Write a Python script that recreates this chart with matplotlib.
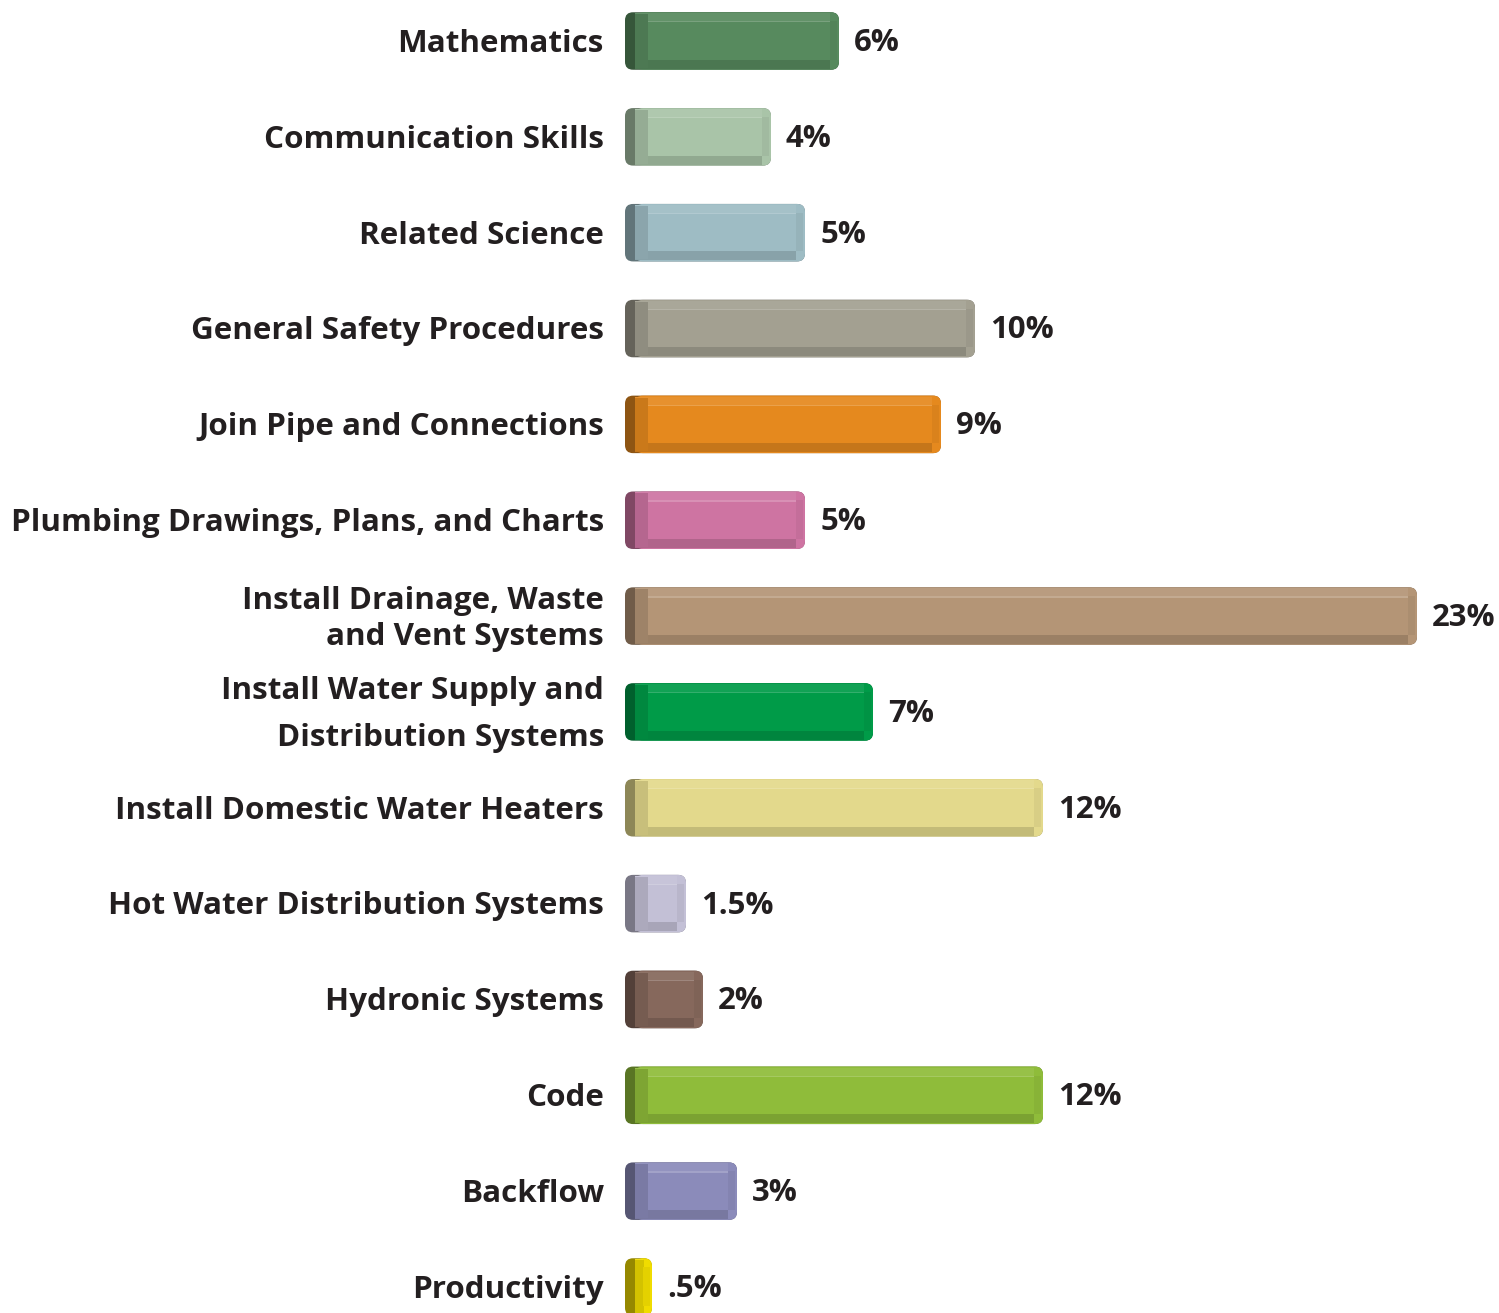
import matplotlib
matplotlib.use("Agg")
import matplotlib.pyplot as plt
from matplotlib.patches import FancyBboxPatch, Rectangle
from matplotlib.colors import to_rgb

# --- data -------------------------------------------------------------
categories = [
    "Mathematics",
    "Communication Skills",
    "Related Science",
    "General Safety Procedures",
    "Join Pipe and Connections",
    "Plumbing Drawings, Plans, and Charts",
    "Install Drainage, Waste\nand Vent Systems",
    "Install Water Supply and\nDistribution Systems",
    "Install Domestic Water Heaters",
    "Hot Water Distribution Systems",
    "Hydronic Systems",
    "Code",
    "Backflow",
    "Productivity",
]
values = [6, 4, 5, 10, 9, 5, 23, 7, 12, 1.5, 2, 12, 3, 0.5]
value_labels = ["6%", "4%", "5%", "10%", "9%", "5%", "23%", "7%", "12%",
                "1.5%", "2%", "12%", "3%", ".5%"]
colors = ["#578A5E", "#A9C4A8", "#9EBCC4", "#A3A091", "#E5891E", "#CE74A2",
          "#B49576", "#009B48", "#E3D98C", "#C3C0D6", "#86685C", "#8FBC3A",
          "#8B8BBA", "#F0DC00"]


def shade(c, f):
    r, g, b = to_rgb(c)
    if f < 1:
        return (r * f, g * f, b * f)
    return tuple(x + (1 - x) * (f - 1) for x in (r, g, b))


W, H = 1499, 1313
fig = plt.figure(figsize=(W / 100, H / 100), dpi=100)

# axes: x=0 sits at pixel 635, 34 px per percent; row i centre at 41 + 95.85*i px
px_x = 34.0
px_y = 95.85
x_left = -10 / px_x
ax = fig.add_axes([625 / W, 0, 1 - 625 / W, 1])
ax.set_xlim(x_left, x_left + (W - 625) / px_x)
ax.set_ylim(13 + (H - 1287) / px_y, -41 / px_y)
ax.axis("off")

bar_h = 0.60
aspect = px_x / px_y
rad = 8 / px_x
font = ["Open Sans", "DejaVu Sans"]
# the two-line labels are spaced differently in the original
line_gap = {6: 1.3, 7: 1.75}

for i, (cat, v, lab, col) in enumerate(zip(categories, values, value_labels, colors)):
    top = i - bar_h / 2
    # dark silhouette (left cap)
    ax.add_patch(FancyBboxPatch((x_left, top), v - x_left, bar_h,
                                boxstyle=f"round,pad=0,rounding_size={rad}",
                                mutation_aspect=aspect,
                                fc=shade(col, 0.62), ec="none"))
    # main face
    ax.add_patch(FancyBboxPatch((0, top), v, bar_h,
                                boxstyle=f"round,pad=0,rounding_size={rad}",
                                mutation_aspect=aspect,
                                fc=col, ec="none"))
    # top highlight strip
    ax.add_patch(Rectangle((0, top + 1 / px_y), v - 9 / px_x, 8 / px_y,
                           fc=shade(col, 1.07), ec="none"))
    ax.add_patch(Rectangle((0, top + 9 / px_y), v - 9 / px_x, 1.2 / px_y,
                           fc=shade(col, 1.2), ec="none"))
    # bottom shadow strip
    ax.add_patch(Rectangle((0, top + bar_h - 10 / px_y), v - 9 / px_x, 9 / px_y,
                           fc=shade(col, 0.86), ec="none"))
    # inner left bevel
    ax.add_patch(Rectangle((0, top + 2 / px_y), min(13 / px_x, v * 0.5),
                           bar_h - 4 / px_y, fc=shade(col, 0.88), ec="none"))
    # right bevel
    ax.add_patch(Rectangle((v - 9 / px_x, top + 9 / px_y), 7 / px_x,
                           bar_h - 19 / px_y, fc=shade(col, 0.95), ec="none"))

    # category label, right aligned left of the bars
    ax.text(x_left - 21 / px_x, i + 0.03, cat, ha="right", va="center",
            fontsize=22.6, fontweight="bold", family=font, color="#231F20",
            linespacing=line_gap.get(i, 1.2), clip_on=False)
    # value label
    ax.text(v + 15 / px_x, i + 0.02, lab, ha="left", va="center",
            fontsize=22.4, fontweight="bold", family=font, color="#231F20")

fig.savefig("out.png", dpi=100)
